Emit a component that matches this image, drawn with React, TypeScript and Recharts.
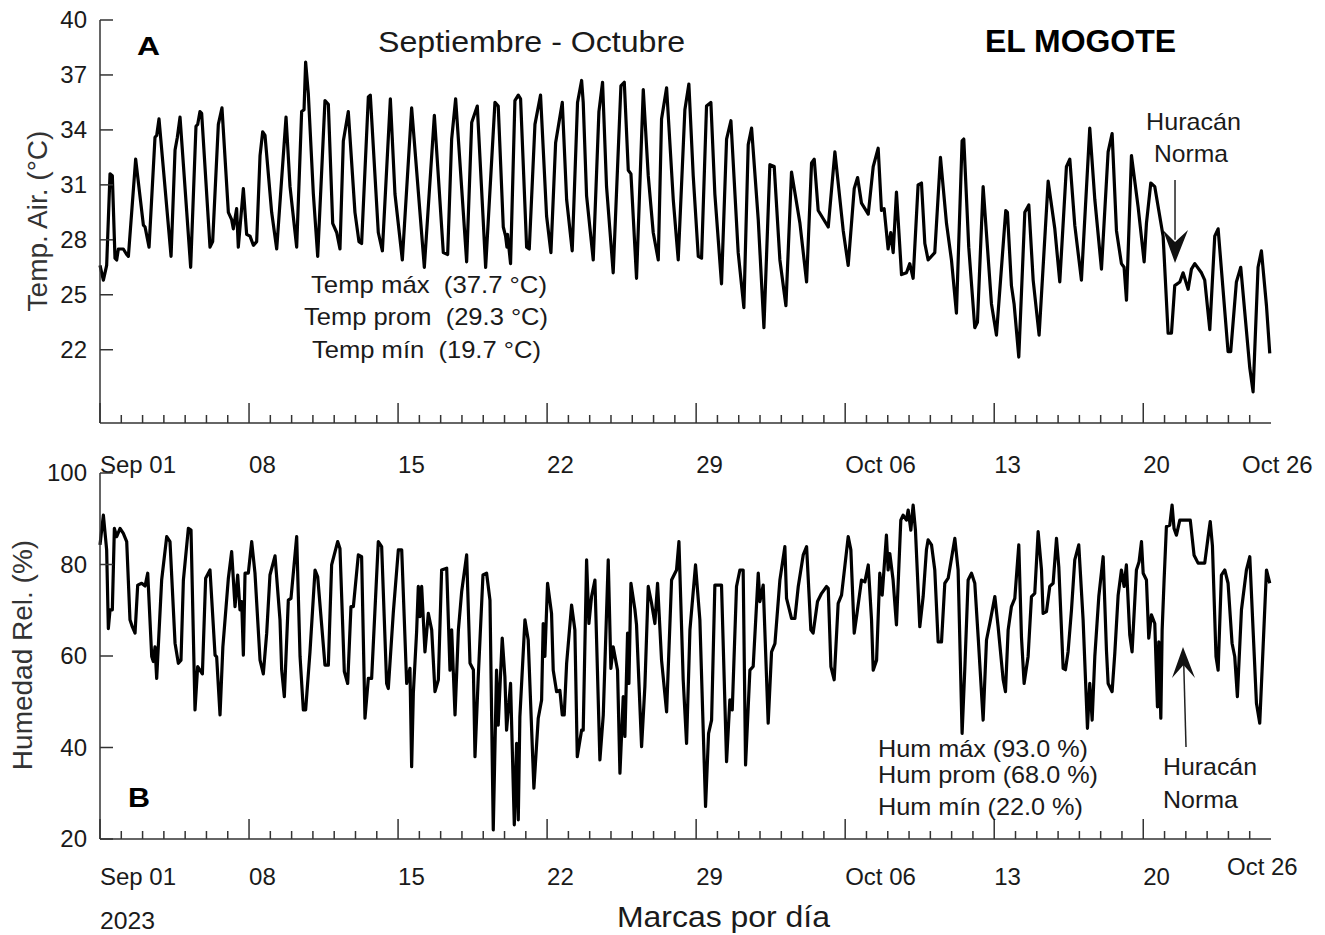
import React from 'react';
import { LineChart, Line, XAxis, YAxis, ReferenceLine, ReferenceDot } from 'recharts';

// ---- Air temperature (hours since 2023-09-01 00:00, °C) ----
const tempSep: [number, number][] = [
  [0,26.6],[3.8,25.8],[7.5,26.6],[11.3,31.6],[13.9,31.5],[16.9,27.0],[18.8,26.9],[20.7,27.5],[26.3,27.5],[30.1,27.2],[32,27.1],
  [40.2,32.4],[48.9,28.8],[50.8,28.7],[55.3,27.6],[62,33.6],[63.9,33.7],[66.5,34.6],[80.1,27.1],[84.6,32.9],[87.2,33.6],[90.2,34.7],
  [102.2,26.5],[108.2,34.2],[110.1,34.3],[112.7,35.0],[114.6,34.9],[124,27.6],[127,27.9],[133.4,34.3],[137.5,35.2],[144.7,29.5],
  [148.4,29.1],[150.3,28.6],[154,29.7],[155.9,27.6],[161.6,30.8],[165.3,28.3],[169.1,28.2],[172.9,27.7],[176.6,27.9],[180.4,32.6],
  [183.4,33.9],[186,33.7],[193.5,29.5],[199.2,27.5],[209.7,34.7],[214.2,30.9],[221.7,27.6],[227.3,35.0],[230,35.1],[231.8,37.7],
  [234.8,36.0],[240.5,30.5],[245.4,27.1],[253.6,35.6],[257.4,35.4],[262.3,28.9],[266.8,28.4],[270.5,27.5],[274.3,33.4],[279.9,35.0],
  [287.4,29.5],[291.9,27.9],[294.9,27.8],[302.5,35.8],[304.7,35.9],[313.7,28.4],[318.3,27.4],[327.3,35.7],[332.5,30.5],[340.8,26.9],
  [351.3,35.2],[365.6,26.5],[376.9,34.8],[387,27.3],[391.9,27.2],[396.4,33.5],[400.9,35.7],[413.3,26.8],[419,34.4],[425.3,35.3],[434.7,26.5],
];
const tempLateSep: [number, number][] = [
  [445.2,35.5],[448.9,35.3],[454.6,28.7],[457.2,28.2],[458.7,27.6],[459.4,28.3],[462.8,26.7],[467.7,35.6],[471.5,35.9],[474.1,35.7],
  [480.9,27.6],[483.9,27.5],[490.3,34.3],[496.6,35.9],[503.4,29.3],[508.3,27.3],[513.6,33.3],[521.1,35.5],[526,30.2],[532.3,27.4],
  [538.3,35.5],[542.9,36.7],[544.7,35.5],[548.5,30.4],[556,26.9],[562.4,35.0],[566.5,36.6],[571,30.9],[578.5,26.2],[587.2,36.4],
  [591,36.6],[595.5,31.8],[598.5,31.6],[604.8,25.9],[612.4,36.2],[618,31.5],[623.6,28.4],[629.3,26.9],[633,34.6],[638.7,36.3],
  [646.2,30.2],[651.8,26.9],[659.3,35.1],[663.8,36.5],[668.7,31.5],[674.4,27.1],[678.1,27.0],[683.7,35.3],[688.6,35.5],[693.1,30.5],
  [700.6,25.6],[706.3,33.5],[711.2,34.5],[719.4,27.3],[725.8,24.3],[730.7,33.2],[734.5,34.1],[742,29.1],[748.4,23.2],[755.1,32.1],
  [760,32.0],[766.4,26.9],[773.2,24.4],[779.5,31.7],[789,28.9],[796.5,25.7],[802.1,32.2],[805.1,32.4],[809.6,29.6],[820.9,28.7],
  [828.4,32.8],[837.8,28.5],[843.4,26.6],[850.2,30.8],[854,31.4],[858.4,30.0],[866,29.4],[871.6,32.0],
];
const tempOct: [number, number][] = [
  [877.2,33.0],[880.9,29.6],[883.9,29.7],[888.4,27.5],[891.4,28.4],[894.1,27.3],[897.8,30.6],[903.5,26.1],[909.1,26.2],[912.8,26.7],
  [916.6,25.9],[922.2,31.0],[926,31.1],[929.8,27.8],[933.5,26.9],[941,27.3],[947.4,32.5],[954.2,28.9],[959.8,26.9],[965.4,24.0],
  [971.8,33.4],[973.7,33.5],[979.3,27.6],[986.1,23.2],[989.1,23.5],[995.5,30.9],[1004.9,24.5],[1010.5,22.8],[1021,29.6],[1022.9,29.5],
  [1027.4,25.5],[1030.4,24.5],[1035.7,21.6],[1042.5,29.5],[1047,29.9],[1051.9,25.8],[1058.6,22.8],[1068.8,31.2],[1076.3,28.6],
  [1081.9,25.7],[1089.4,32.0],[1093.2,32.4],[1098.8,28.8],[1106.3,25.8],[1115.7,34.1],[1121.4,30.2],[1128.9,26.4],[1136.4,32.8],
  [1140.9,33.8],[1145.8,28.5],[1151.4,26.7],[1154.4,26.5],[1157.1,24.7],[1162.7,32.6],[1170.2,29.8],[1177,26.8],[1179.6,28.9],
  [1184.5,31.1],[1189,30.9],[1198.4,28.2],[1204,22.9],[1207.8,22.9],[1211.5,25.5],[1217.2,25.7],[1220.9,26.2],[1226.6,25.3],
  [1230.3,26.4],[1234.1,26.7],[1241.6,26.2],[1245.3,25.8],[1251,23.1],[1256.6,28.2],[1260.4,28.6],[1271.6,21.9],[1274.6,21.9],
  [1281,25.7],[1285.9,26.5],[1296.1,21.0],[1299.8,19.7],[1305.4,26.5],[1309.2,27.4],[1314.9,24.4],[1318.6,21.8],
];

// ---- Relative humidity (hours since 2023-09-01 00:00, %) ----
const humSep: [number, number][] = [
  [0,84.3],[3.8,90.8],[7.5,83.2],[9.4,66.0],[11.3,70.1],[13.9,70.1],[16.2,87.9],[18.8,86.1],[22.6,87.9],[26.3,86.8],[30.1,85.0],
  [33.8,67.9],[36.4,66.4],[39.5,65.0],[42.5,75.5],[47,75.9],[50.8,75.3],[53.8,78.1],[58.3,59.9],[60.1,58.8],[62,62.0],[63.9,55.1],
  [69.5,76.6],[75.2,86.1],[78.9,85.0],[84.6,62.8],[88.3,58.4],[91.3,59.1],[94,76.6],[99.6,87.9],[102.6,87.5],[107.1,48.2],[110.1,57.7],
  [115.4,56.1],[119.1,77.0],[124,78.8],[129.7,60.2],[131.5,59.8],[135.3,47.1],[138.5,62.0],[144.7,77.0],[148.4,82.8],[152.2,70.8],
  [155.2,77.7],[157.8,70.1],[159.7,71.9],[161.6,60.2],[163.5,78.1],[167.2,78.1],[171,85.0],[174.7,78.1],[180.4,59.1],[184.1,56.1],
  [187.9,65.0],[191.6,77.7],[197.3,81.9],[202.9,67.9],[204.8,56.9],[207.8,51.1],[212.3,72.2],[215.3,72.6],[221.7,86.1],[225.5,59.9],
  [229.2,48.2],[231.8,48.2],[236.7,60.9],[242.4,78.8],[245.4,77.3],[253.6,58.0],[257.4,58.0],[261.1,79.9],[267.9,85.0],[270.5,83.5],
  [275.4,56.6],[279.2,54.0],[282.9,70.8],[285.6,70.8],[291.2,82.1],[294.9,81.7],[298.7,46.4],[302.5,55.1],[306.2,55.1],[313.7,85.0],
  [317.5,83.9],[323.1,54.0],[325,52.9],[330.7,69.7],[336.3,83.2],[340.1,83.2],[345.7,54.0],[349.4,57.3],[351.3,35.8],[353.2,51.8],
  [356.9,65.3],[358.8,75.2],[360.7,68.6],[362.6,75.2],[366.3,60.9],[370.1,69.3],[373.9,65.7],[377.6,52.2],[381.4,54.8],[385.1,78.8],
  [390.8,79.2],[394.5,56.9],[396.4,65.7],[400.2,47.1],[404,65.7],[407.7,74.1],[413.3,82.1],[417.1,58.4],[420.9,57.0],[422.7,38.0],
  [426.4,55.5],[431.7,77.7],[435.8,78.1],[439.6,72.2],
];
const humLateSep: [number, number][] = [
  [443.3,22.0],[447,56.9],[448.9,44.9],[453.4,63.9],[456.4,55.5],[458.3,43.8],[462.8,54.0],[467,23.1],[469.6,40.9],[471.5,24.2],
  [473.3,46.7],[479,67.9],[482.7,63.5],[489.1,31.1],[494,46.4],[497.8,50.4],[499.6,67.1],[501.5,59.9],[504.5,75.9],[509,69.3],
  [510.9,56.9],[514.7,52.2],[518.4,52.5],[521.1,47.1],[523.3,47.1],[526,58.4],[531.6,71.1],[535.3,65.7],[538,38.0],[542.9,43.8],
  [544.7,43.8],[548.5,81.0],[551.1,67.1],[554.1,73.0],[557.9,76.6],[563.5,37.3],[567.3,47.1],[572.9,81.0],[575.9,57.3],[578.5,62.0],
  [583.4,56.9],[586.1,34.4],[589.8,51.1],[591.7,42.4],[594.7,65.0],[596.2,54.0],[598.5,75.9],[603,70.1],[604.8,66.8],[610.5,40.2],
  [614.2,53.3],[618,75.2],[621.8,71.5],[625.5,67.1],[628.5,75.9],[633,59.1],[638.7,47.8],[644.3,76.6],[649.9,78.8],[652.6,85.0],
  [657.4,54.8],[661.2,40.9],[665,65.7],[671.3,79.9],[676.2,67.9],[682.6,27.1],[686,43.1],[689.4,46.0],[693.1,75.5],[700.6,75.5],
  [706.3,36.9],[710,50.4],[712.7,48.2],[717.5,75.2],[721.3,78.8],[725,78.8],[727.7,36.2],[732.6,56.9],[736.3,57.7],[742,78.1],
  [743.9,71.9],[747.6,75.5],[753.2,45.3],[757,60.9],[760.8,62.7],[766.4,76.6],[772,83.9],[773.9,72.6],[779.5,68.2],[783.3,68.2],
  [787.1,75.2],[792.7,82.1],[796.5,83.9],[801.3,65.7],[803.9,65.0],[808.8,71.9],[813.4,73.7],[819,75.2],[820.9,74.8],[823.9,57.7],
  [827.6,54.8],[832.1,71.5],[835.9,73.3],[843.4,86.1],[846.4,83.2],[850.2,65.0],[852.8,68.6],[858.4,76.6],[862.2,76.2],[866,79.9],
  [869.7,67.9],[871.6,56.9],[875.4,59.1],
];
const humOct: [number, number][] = [
  [879,78.1],[881.7,73.3],[886.5,86.4],[888.4,78.8],[890.3,82.4],[894,76.6],[897.8,66.8],[902.7,89.7],[905.3,90.8],[909.1,89.7],
  [911,91.9],[914,87.5],[916.6,93.0],[919.2,87.5],[924.1,66.4],[927.9,73.0],[931.6,83.2],[933.5,85.4],[937.3,84.3],[941,78.8],
  [944.8,63.1],[948.6,63.1],[952.3,75.9],[956.1,77.0],[963.6,85.7],[967.3,78.8],[971.8,43.1],[974.8,57.0],[978.6,76.6],[982.4,78.1],
  [986.1,75.9],[989.9,64.2],[995.5,46.0],[999.3,63.5],[1003,67.1],[1008.7,73.0],[1012.4,66.4],[1018.1,54.8],[1020.7,52.2],[1023.7,65.7],
  [1027.4,70.8],[1031.2,72.6],[1035.7,84.3],[1038.7,64.2],[1041.7,54.0],[1046.2,59.9],[1050,73.0],[1053.7,73.7],[1057.5,87.2],
  [1061.3,78.8],[1063.1,69.3],[1066.9,69.7],[1070.6,75.2],[1074.4,75.9],[1078.2,85.7],[1080.8,79.5],[1085.7,57.3],[1088.3,57.0],
  [1091.3,61.0],[1095.1,70.1],[1098.8,81.0],[1103.3,84.3],[1108.2,67.9],[1113.1,44.2],[1115.7,54.0],[1118.4,46.0],[1121.4,59.9],
  [1125.9,73.0],[1130.8,81.7],[1134.5,61.3],[1136.4,54.0],[1140.9,52.2],[1143.9,60.5],[1147.7,73.3],[1151.4,78.8],[1154.4,75.2],
  [1157,79.9],[1160.8,64.6],[1163.4,60.9],[1168.3,78.8],[1171.3,80.6],[1174,85.0],[1175.9,78.1],[1179.6,76.6],[1182.2,63.9],
  [1185.2,69.0],[1189,67.1],[1192,48.9],[1193.5,63.1],[1195.8,46.4],[1197.3,65.7],[1199.5,76.6],[1202.1,88.3],[1205.9,88.6],
  [1208.5,93.0],[1210.7,87.9],[1213.4,86.4],[1217.2,89.7],[1222.8,89.7],[1229,89.7],[1233.3,82.0],[1237.8,80.3],[1245.3,80.3],
  [1249.1,86.0],[1251.5,89.4],[1254,84.0],[1258,59.9],[1260.4,56.9],[1264.1,77.7],[1267.9,78.8],[1271.6,75.9],[1276.1,62.8],
  [1279.1,59.9],[1282.1,51.1],[1286.7,70.1],[1292.3,78.8],[1296.1,81.7],[1299.8,65.7],[1303.6,49.7],[1307.3,45.3],[1311.1,62.0],
  [1314.9,78.8],[1318.6,75.9],
];

// ---- Axes ----
const weekLabels = ['Sep 01', '08', '15', '22', '29', 'Oct 06', '13', '20'];
const endLabel = 'Oct 26';
const lastDay = 55;
const dayTicks = Array.from({ length: lastDay + 1 }, (_, i) => i * 24);
const tempTicks = [22, 25, 28, 31, 34, 37, 40];
const humTicks = [20, 40, 60, 80, 100];
const tempDomain = [18, 40];
const humDomain = [20, 100];

// ---- Hurricane Norma arrows (data coordinates) ----
const tempArrow = { h: 1211.8, top: 31.27, base: 28.0, tip: 26.74 };
const humArrow = { hTip: 1220.8, tip: 61.97, hBase: 1221.6, base: 58.6, hEnd: 1224.2, end: 40.1 };

const FONT = '"Liberation Sans", Arial, Helvetica, sans-serif';
const AXIS = '#333';
const TXT = '#1a1a1a';

function makeXTick(labelDy: number, endDx: number, endDy: number) {
  return function XTick(props: any) {
    const { x, y, payload } = props;
    const day = Math.round(payload.value / 24);
    const major = day % 7 === 0;
    const isEnd = day === lastDay;
    const label = isEnd ? endLabel : major ? weekLabels[day / 7] : null;
    return (
      <g>
        {!isEnd && (
          <line x1={x} y1={y} x2={x} y2={y - (major ? 20 : 8)} stroke={AXIS} strokeWidth={1.5} />
        )}
        {label && (
          <text
            x={isEnd ? x + endDx : x}
            y={y + (isEnd ? endDy : labelDy)}
            dy="0.35em"
            textAnchor="start"
            fontSize={24}
            fill={TXT}
            fontFamily={FONT}
          >
            {label}
          </text>
        )}
      </g>
    );
  };
}

function YTick(props: any) {
  const { x, y, payload } = props;
  return (
    <g>
      <line x1={x} y1={y} x2={x + 13} y2={y} stroke={AXIS} strokeWidth={1.5} />
      <text x={x - 13} y={y} dy="0.35em" textAnchor="end" fontSize={24} fill={TXT} fontFamily={FONT}>
        {payload.value}
      </text>
    </g>
  );
}

const ArrowDown = (p: any) => {
  const { cx, cy } = p;
  return <polygon points={`${cx - 12},${cy - 33} ${cx},${cy} ${cx + 13},${cy - 33} ${cx},${cy - 21}`} fill="#111" />;
};
const ArrowUp = (p: any) => {
  const { cx, cy } = p;
  return <polygon points={`${cx - 11},${cy + 31} ${cx},${cy} ${cx + 12},${cy + 31} ${cx + 0.5},${cy + 18}`} fill="#111" />;
};

const TopTick = makeXTick(42, -29, 42);
const BottomTick = makeXTick(38, -44, 28);

const T = (p: any) => {
  const { w, children, ...rest } = p;
  return (
    <text {...rest} textLength={w} lengthAdjust="spacingAndGlyphs" style={{ whiteSpace: 'pre' }}>
      {children}
    </text>
  );
};

export default function App() {
  const tempData = [...tempSep, ...tempLateSep, ...tempOct].map(([h, v]) => ({ h, v }));
  const humData = [...humSep, ...humLateSep, ...humOct].map(([h, v]) => ({ h, v }));
  const axisLine = { stroke: AXIS, strokeWidth: 1.5 };

  return (
    <div style={{ position: 'absolute', left: 0, top: 0, width: 1325, height: 935, background: '#fff', overflow: 'hidden' }}>
      <div style={{ position: 'absolute', left: 0, top: 0 }}>
        <LineChart width={1325} height={480} data={tempData} margin={{ top: 20, right: 54, bottom: 17, left: 40 }}>
          <XAxis
            dataKey="h" type="number" domain={[0, lastDay * 24]} ticks={dayTicks} interval={0}
            tickLine={false} tickSize={0} tickMargin={0} axisLine={axisLine} height={40} tick={TopTick}
          />
          <YAxis
            type="number" domain={tempDomain} ticks={tempTicks} interval={0} width={60}
            tickLine={false} tickSize={0} tickMargin={0} axisLine={axisLine} tick={YTick}
          />
          <Line type="linear" dataKey="v" stroke="#000" strokeWidth={3.2} dot={false} isAnimationActive={false} strokeLinejoin="round" />
          <ReferenceLine segment={[{ x: tempArrow.h, y: tempArrow.top }, { x: tempArrow.h, y: tempArrow.base }]} stroke="#222" strokeWidth={1.5} />
          <ReferenceDot x={tempArrow.h} y={tempArrow.tip} r={1} shape={ArrowDown} />
        </LineChart>
      </div>
      <div style={{ position: 'absolute', left: 0, top: 460 }}>
        <LineChart width={1325} height={475} data={humData} margin={{ top: 13, right: 54, bottom: 56, left: 40 }}>
          <XAxis
            dataKey="h" type="number" domain={[0, lastDay * 24]} ticks={dayTicks} interval={0}
            tickLine={false} tickSize={0} tickMargin={0} axisLine={axisLine} height={40} tick={BottomTick}
          />
          <YAxis
            type="number" domain={humDomain} ticks={humTicks} interval={0} width={60}
            tickLine={false} tickSize={0} tickMargin={0} axisLine={axisLine} tick={YTick}
          />
          <Line type="linear" dataKey="v" stroke="#000" strokeWidth={3.2} dot={false} isAnimationActive={false} strokeLinejoin="round" />
          <ReferenceLine segment={[{ x: humArrow.hBase, y: humArrow.base }, { x: humArrow.hEnd, y: humArrow.end }]} stroke="#222" strokeWidth={1.5} />
          <ReferenceDot x={humArrow.hTip} y={humArrow.tip} r={1} shape={ArrowUp} />
        </LineChart>
      </div>
      <svg width={1325} height={935} style={{ position: 'absolute', left: 0, top: 0, pointerEvents: 'none' }} fontFamily={FONT}>
        <T x={137} y={55} w={23} fontSize={26} fontWeight="bold" fill="#000">A</T>
        <T x={378} y={52} w={307} fontSize={29} fill={TXT}>Septiembre - Octubre</T>
        <T x={985} y={52} w={191} fontSize={31} fontWeight="bold" fill="#000">EL MOGOTE</T>
        <text x={37} y={221} fontSize={28} textAnchor="middle" dominantBaseline="central" fill="#333" transform="rotate(-90 37 221)">Temp. Air. (°C)</text>
        <text x={22} y={655} fontSize={28} textAnchor="middle" dominantBaseline="central" fill="#333" transform="rotate(-90 22 655)">Humedad Rel. (%)</text>
        <T x={311} y={293} w={236} fontSize={24} fill={TXT}>{'Temp máx  (37.7 °C)'}</T>
        <T x={304} y={325} w={244} fontSize={24} fill={TXT}>{'Temp prom  (29.3 °C)'}</T>
        <T x={312} y={358} w={229} fontSize={24} fill={TXT}>{'Temp mín  (19.7 °C)'}</T>
        <T x={1146} y={130} w={95} fontSize={24} fill={TXT}>Huracán</T>
        <T x={1154} y={162} w={74} fontSize={24} fill={TXT}>Norma</T>
        <T x={128} y={807} w={22} fontSize={27} fontWeight="bold" fill="#000">B</T>
        <T x={878} y={757} w={210} fontSize={24} fill={TXT}>Hum máx (93.0 %)</T>
        <T x={878} y={783} w={220} fontSize={24} fill={TXT}>Hum prom (68.0 %)</T>
        <T x={878} y={815} w={205} fontSize={24} fill={TXT}>Hum mín (22.0 %)</T>
        <T x={1163} y={775} w={94} fontSize={24} fill={TXT}>Huracán</T>
        <T x={1163} y={808} w={75} fontSize={24} fill={TXT}>Norma</T>
        <T x={100} y={929} w={55} fontSize={23} fill={TXT}>2023</T>
        <T x={617} y={927} w={213} fontSize={29} fill={TXT}>Marcas por día</T>
      </svg>
    </div>
  );
}
